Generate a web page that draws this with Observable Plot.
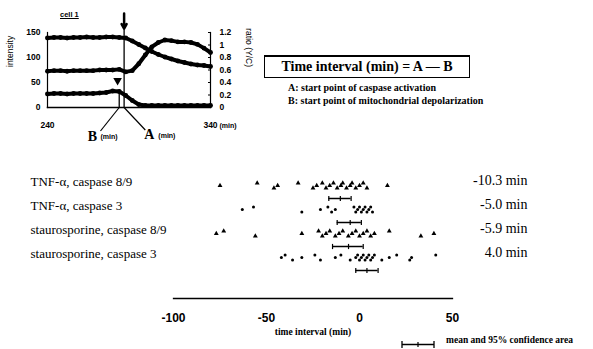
<!DOCTYPE html>
<html><head><meta charset="utf-8">
<script src="https://cdn.jsdelivr.net/npm/d3@7"></script>
<script src="https://cdn.jsdelivr.net/npm/@observablehq/plot@0.6"></script>
<style>
body{margin:0;background:#fff;}
#fig{position:relative;width:593px;height:349px;overflow:hidden;background:#fff;font-family:"Liberation Serif",serif;color:#000;}
.abs{position:absolute;white-space:nowrap;line-height:1;}
#fig svg{overflow:visible;}
</style></head><body><div id="fig"></div>
<script>
// ---------- inset: cell 1 time course ----------
const times = [240,244,248,252,256,260,264,268,272,276,280,284,288,292,296,300,304,308,312,316,320,324,328,332,336,340];
const intensityHigh = [139,140,140,139,140,140,141,140,140,141,141,140,139,133,126,119,112,106,101,97,93,90,87,85,84,82];
const ratioYC = [0.58,0.59,0.59,0.58,0.59,0.59,0.59,0.59,0.6,0.6,0.6,0.61,0.57,0.59,0.7,0.84,0.97,1.04,1.08,1.07,1.05,1.05,1.04,1.01,0.95,0.88];
const intensityLow = [27,28,28,27,28,28,28,28,29,30,33,32,24,14,6,4,4,4,4,4,4,4,4,4,4,4];
const intensityTicks = [0,50,100,150];
const ratioTicks = [0,0.2,0.4,0.6,0.8,1,1.2];
const insetXTicks = [240,340];
const timeA = 287, timeB = 284;

// ---------- main: time intervals ----------
const rows = ["TNF-α, caspase 8/9","TNF-α, caspase 3","staurosporine, caspase 8/9","staurosporine, caspase 3"];
const tnf89 = [-75,-55,-46,-44,-33,-25,-23,-20,-18,-16,-14,-12,-10,-9,-7,-5,-4,-2,0,2,4,15];
const tnf3 = [-63,-57,-31,-21,-17,-15,-13,-3,-2,-1,0,1,2,3,4,5,6,7];
const sts89 = [-77,-73,-56,-31,-22,-20,-18,-16,-13,-11,-9,-6,-4,-2,0,2,4,6,8,16,33,40];
const sts3 = [-42,-40,-36,-31,-24,-21,-13,-10,-5,-2,-1,0,1,2,3,4,5,6,7,8,12,16,20,27,28,41];
const means = [-10.3,-5.0,-5.9,4.0];
const ciLow = [-16.5,-12,-14.5,-2];
const ciHigh = [-4.5,1,2,10];
const meanLabels = ["-10.3 min","-5.0 min","-5.9 min","4.0 min"];
const xTicks = [-100,-50,0,50];

const fig = document.getElementById("fig");
const k = 150/1.2;
const seriesData = (vals, f=1) => times.map((t,i)=>({t, v: vals[i]*f}));

const inset = Plot.plot({
  width: 262, height: 148,
  marginLeft: 47, marginRight: 52, marginTop: 32, marginBottom: 41,
  x: {domain: [240,340], axis: null},
  y: {domain: [0,150], axis: null},
  style: {fontFamily: "Liberation Sans, Arial, sans-serif", fontWeight: "bold", background: "transparent", overflow: "visible", color: "#000"},
  marks: [
    Plot.frame({anchor: "left", strokeWidth: 1.2}),
    Plot.frame({anchor: "bottom", strokeWidth: 1.5}),
    Plot.frame({anchor: "right", strokeWidth: 1.2}),
    Plot.axisY({anchor: "left", ticks: intensityTicks, tickSize: 0, tickPadding: 7, fontSize: 8.5, label: null}),
    Plot.axisY({anchor: "right", ticks: ratioTicks.map(v=>v*k), tickFormat: d => String(+(d/k).toFixed(1)), tickSize: -3, tickPadding: 12, fontSize: 8.5, label: null}),
    Plot.text(insetXTicks, {x: d=>d, text: d=>String(d), frameAnchor: "bottom", dy: 20, fontSize: 8.5, fill: "black"}),
    Plot.text(["(min)"], {x: () => 340, frameAnchor: "bottom", dy: 20, dx: 9, textAnchor: "start", fontSize: 7, fill: "black"}),
    Plot.text(["intensity"], {frameAnchor: "left", dx: -37, dy: -3, rotate: -90, fontSize: 8.5, fontWeight: "normal", fill: "black"}),
    Plot.text(["ratio (Y/C)"], {frameAnchor: "right", dx: 38, dy: -3, rotate: 90, fontSize: 8.5, fontWeight: "normal", fill: "black"}),
    // series
    Plot.line(seriesData(intensityHigh), {x:"t", y:"v", strokeWidth: 4}),
    Plot.dot(seriesData(intensityHigh), {x:"t", y:"v", r: 2.4, fill: "black"}),
    Plot.line(seriesData(ratioYC, k), {x:"t", y:"v", strokeWidth: 4}),
    Plot.dot(seriesData(ratioYC, k), {x:"t", y:"v", r: 2.4, fill: "black"}),
    Plot.line(seriesData(intensityLow), {x:"t", y:"v", strokeWidth: 4}),
    Plot.dot(seriesData(intensityLow), {x:"t", y:"v", r: 2.4, fill: "black"}),
    // event markers
    Plot.ruleX([timeA], {y1: 0, y2: 156, strokeWidth: 1.3}),
    Plot.ruleX([timeB], {y1: 0, y2: 34, strokeWidth: 1.3}),
    Plot.arrow([timeA], {x1: d=>d, x2: d=>d, y1: 188, y2: 158, strokeWidth: 2.5, headLength: 7}),
    Plot.dot([timeB], {x: d=>d-1, y: 54, symbol: "triangle", rotate: 180, r: 3.2, fill: "black"}),
    Plot.link([timeB], {x1: d=>d, y1: 0, x2: 272.5, y2: -47, strokeWidth: 1.2}),
    Plot.link([timeA], {x1: d=>d, y1: 0, x2: 300, y2: -45, strokeWidth: 1.2}),
    Plot.text(["B"], {x: 267.5, y: -58, fontFamily: "Liberation Serif, serif", fontSize: 14, fill: "black"}),
    Plot.text(["(min)"], {x: 272.5, y: -59, textAnchor: "start", fontSize: 7, fill: "black"}),
    Plot.text(["A"], {x: 302.5, y: -55, fontFamily: "Liberation Serif, serif", fontSize: 14, fill: "black"}),
    Plot.text(["(min)"], {x: 308, y: -56, textAnchor: "start", fontSize: 7, fill: "black"})
  ]
});
const insetWrap = document.createElement("div");
insetWrap.className = "abs"; insetWrap.style.left = "0px"; insetWrap.style.top = "0px";
insetWrap.appendChild(inset);
fig.appendChild(insetWrap);

// main dot plot
const valuesByRow = [tnf89, tnf3, sts89, sts3];
const pts = rows.flatMap((row,i) => valuesByRow[i].map((v,j) => ({row, v, j, tri: i % 2 === 0})));
const jit = [0, -2.5, 2.5];
const dotMarks = [0,1,2].flatMap(m => [
  Plot.dot(pts.filter(d => d.j % 3 === m && d.tri), {x:"v", y:"row", dy: jit[m], symbol: "triangle", r: 1.8, fill: "black"}),
  Plot.dot(pts.filter(d => d.j % 3 === m && !d.tri), {x:"v", y:"row", dy: jit[m], r: 1.5, fill: "black"})
]);
const ci = rows.map((row,i) => ({row, lo: ciLow[i], hi: ciHigh[i], mean: means[i]}));
const ciTicks = ci.flatMap(d => [d.lo, d.mean, d.hi].map(x => ({row: d.row, x})));
const vbar = {draw(ctx, size) { const h = Math.sqrt(size / Math.PI); ctx.moveTo(0, -h); ctx.lineTo(0, h); }};

const main = Plot.plot({
  width: 593, height: 199,
  marginLeft: 173, marginRight: 141, marginTop: 0, marginBottom: 51,
  x: {domain: [-100,50], axis: null},
  y: {type: "point", domain: rows, range: [22,120], axis: null},
  style: {fontFamily: "Liberation Serif, serif", background: "transparent", overflow: "visible", color: "#000"},
  marks: [
    Plot.frame({anchor: "bottom", strokeWidth: 1.3}),
    Plot.axisX({ticks: xTicks, tickSize: 0, tickPadding: 15, tickFormat: d => String(d), fontFamily: "Liberation Sans, Arial, sans-serif", fontWeight: "bold", fontSize: 12, label: null}),
    Plot.text(["time interval (min)"], {frameAnchor: "bottom", dy: 36, fontWeight: "bold", fontSize: 9.5, fill: "black"}),
    ...dotMarks,
    Plot.ruleY(ci, {y: "row", x1: "lo", x2: "hi", dy: 13, strokeWidth: 1.5}),
    Plot.dot(ciTicks, {x: "x", y: "row", dy: 13, symbol: vbar, r: 2.6, stroke: "black", strokeWidth: 1.2, fill: "none"}),
    Plot.text(rows, {y: d=>d, text: d=>d, frameAnchor: "left", dx: -143, dy: -4, textAnchor: "start", fontSize: 13, fill: "black"}),
    Plot.text(rows, {y: d=>d, text: (d,i)=>meanLabels[i], frameAnchor: "right", dx: 75, dy: -5, textAnchor: "end", fontSize: 14, fill: "black"})
  ]
});
const mainWrap = document.createElement("div");
mainWrap.className = "abs"; mainWrap.style.left = "0px"; mainWrap.style.top = "150px";
mainWrap.appendChild(main);
fig.appendChild(mainWrap);

// HTML annotations
function addHTML(html){ const d = document.createElement("div"); d.innerHTML = html; while (d.firstChild) fig.appendChild(d.firstChild); }
addHTML(`<div class="abs" style="left:60px;top:10px;font:bold 7.5px 'Liberation Sans',sans-serif;text-decoration:underline;">cell 1</div>`);
addHTML(`<div class="abs" style="left:264px;top:55px;width:206px;height:23px;border:1.5px solid #000;border-top-width:2.5px;box-sizing:border-box;font:bold 14px 'Liberation Serif',serif;display:flex;align-items:center;justify-content:center;">Time interval (min) = A — B</div>`);
addHTML(`<div class="abs" style="left:288px;top:82px;font:bold 10px 'Liberation Serif',serif;">A: start point of caspase activation</div>`);
addHTML(`<div class="abs" style="left:288px;top:95px;font:bold 10px 'Liberation Serif',serif;">B: start point of mitochondrial depolarization</div>`);
addHTML(`<div class="abs" style="left:401px;top:336px;"><svg width="34" height="9"><line x1="1" y1="4.5" x2="33" y2="4.5" stroke="#000" stroke-width="1.5"/><line x1="1" y1="1" x2="1" y2="8" stroke="#000" stroke-width="1.3"/><line x1="17" y1="2" x2="17" y2="7" stroke="#000" stroke-width="1.2"/><line x1="33" y1="1" x2="33" y2="8" stroke="#000" stroke-width="1.3"/></svg></div>`);
addHTML(`<div class="abs" style="left:446px;top:335px;font:bold 9.5px 'Liberation Serif',serif;">mean and 95% confidence area</div>`);
</script></body></html>
